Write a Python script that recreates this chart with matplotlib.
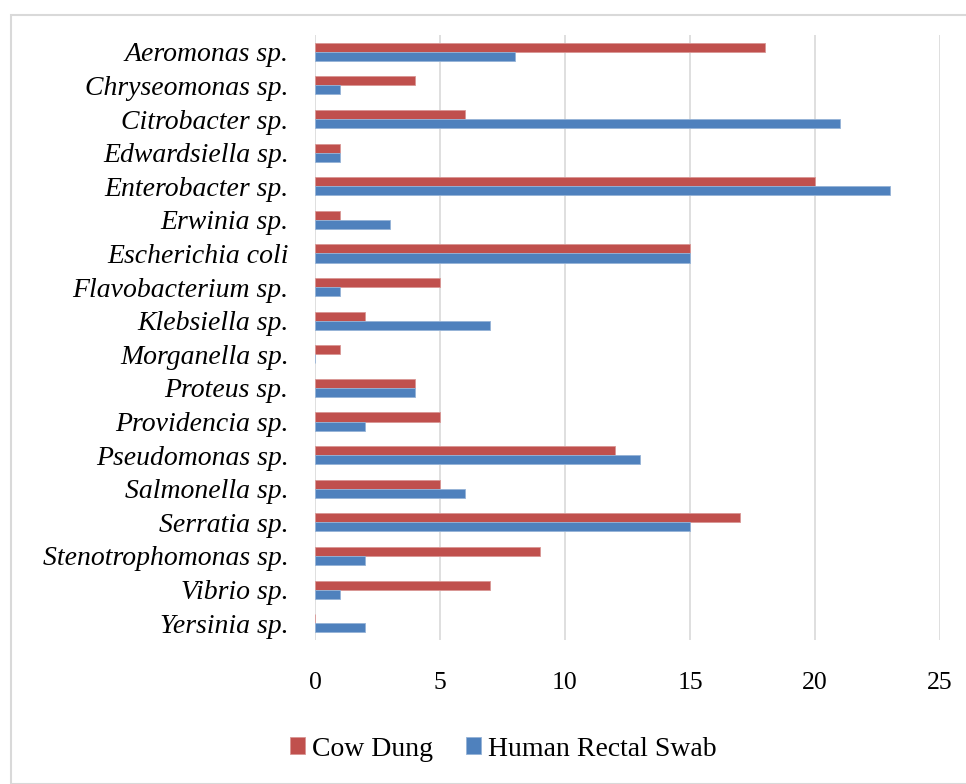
import matplotlib
matplotlib.use("Agg")
import matplotlib.pyplot as plt
import numpy as np
from matplotlib.patches import Rectangle

categories = ["Aeromonas sp.", "Chryseomonas sp.", "Citrobacter sp.", "Edwardsiella sp.",
              "Enterobacter sp.", "Erwinia sp.", "Escherichia coli", "Flavobacterium sp.",
              "Klebsiella sp.", "Morganella sp.", "Proteus sp.", "Providencia sp.",
              "Pseudomonas sp.", "Salmonella sp.", "Serratia sp.", "Stenotrophomonas sp.",
              "Vibrio sp.", "Yersinia sp."]
cow_dung = [18, 4, 6, 1, 20, 1, 15, 5, 2, 1, 4, 5, 12, 5, 17, 9, 7, 0]
human_rectal = [8, 1, 21, 1, 23, 3, 15, 1, 7, 0, 4, 2, 13, 6, 15, 2, 1, 2]
xticks = [0, 5, 10, 15, 20, 25]

plt.rcParams['font.family'] = ['Liberation Serif', 'DejaVu Serif']

fig = plt.figure(figsize=(9.66, 7.84), dpi=100)
ax = fig.add_axes([315/966, 1-640/784, 625/966, 605/784])

y = np.arange(len(categories))
h = 0.27
ax.barh(y - h/2, cow_dung, height=h, color='#C0504D', edgecolor='#D99694', linewidth=0.6, label='Cow Dung', zorder=3)
ax.barh(y + h/2, human_rectal, height=h, color='#4F81BD', edgecolor='#95B3D7', linewidth=0.6, label='Human Rectal Swab', zorder=3)

ax.set_ylim(len(categories) - 0.5, -0.5)
ax.set_xlim(0, 25)
ax.set_xticks(xticks)
ax.set_yticks(y)
ax.set_yticklabels(categories, fontstyle='italic', fontsize=20)
ax.tick_params(axis='x', length=0, pad=23, labelsize=18.5)
ax.tick_params(axis='y', length=0, pad=19)
for s in ax.spines.values():
    s.set_visible(False)
ax.grid(axis='x', color='#D9D9D9', linewidth=1.2, zorder=0)
ax.set_axisbelow(True)

leg = fig.legend(loc='center', bbox_to_anchor=(0.521, 1-749/784), ncol=2, frameon=False,
                 fontsize=20, handlelength=0.55, handleheight=0.55, handletextpad=0.25,
                 columnspacing=1.2)

fig.patches.append(Rectangle((11/966, 0.0), 1.0, 1-15/784, transform=fig.transFigure,
                             fill=False, edgecolor='#D9D9D9', linewidth=1.5))

fig.savefig("out.png", dpi=100)
